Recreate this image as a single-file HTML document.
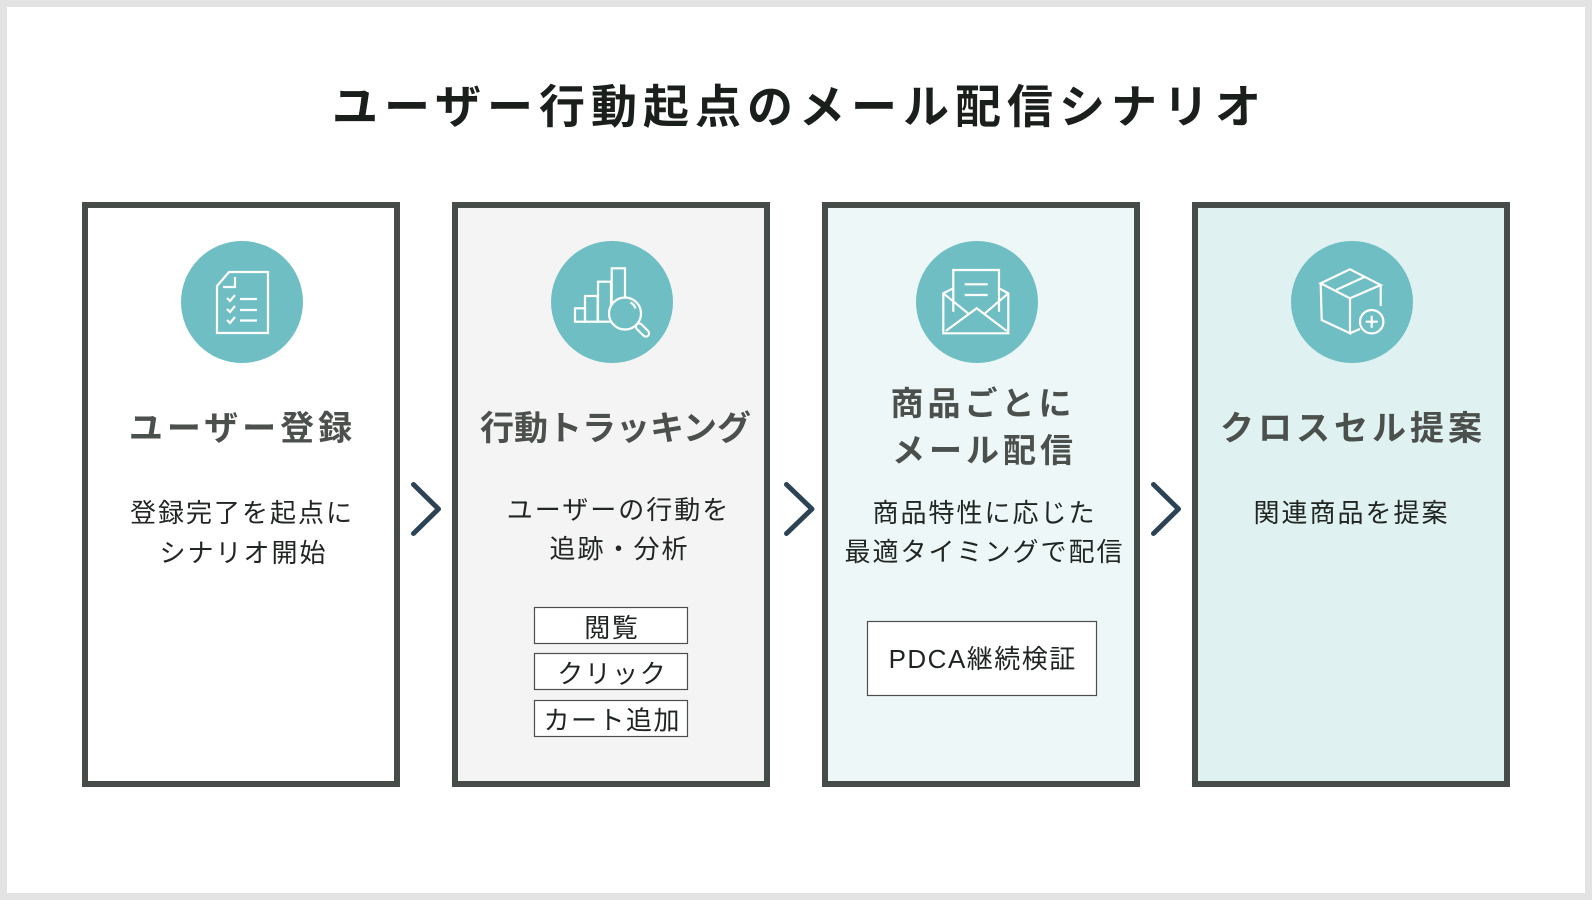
<!DOCTYPE html>
<html>
<head>
<meta charset="utf-8">
<style>
  html,body{margin:0;padding:0;background:#fff;}
  body{width:1592px;height:900px;overflow:hidden;}
  svg{display:block;}
  text{font-family:"Liberation Sans","Noto Sans CJK JP",sans-serif;}
  .ttl{font-weight:700;fill:#1b1f1c;font-size:46px;letter-spacing:6px;}
  .ct{font-weight:700;fill:#4b504d;font-size:34px;}
  .bd{font-weight:400;fill:#212622;font-size:26px;letter-spacing:2px;}
  .sb{font-weight:400;fill:#1f2421;font-size:26px;letter-spacing:1.5px;}
  .ic{fill:none;stroke:#fff;stroke-width:2.2;stroke-linejoin:miter;stroke-linecap:butt;}
</style>
</head>
<body>
<svg width="1592" height="900" viewBox="0 0 1592 900" xmlns="http://www.w3.org/2000/svg">
  <!-- frame -->
  <rect x="0" y="0" width="1592" height="900" fill="#e3e3e3"/>
  <rect x="7" y="7" width="1578" height="886" fill="#ffffff"/>

  <!-- title -->
  <text class="ttl" x="799.5" y="123" text-anchor="middle">ユーザー行動起点のメール配信シナリオ</text>

  <!-- cards -->
  <rect x="85" y="205" width="312" height="579" fill="#ffffff" stroke="#464c48" stroke-width="6"/>
  <rect x="455" y="205" width="312" height="579" fill="#f4f4f4" stroke="#464c48" stroke-width="6"/>
  <rect x="825" y="205" width="312" height="579" fill="#eef7f8" stroke="#464c48" stroke-width="6"/>
  <rect x="1195" y="205" width="312" height="579" fill="#e0f1f1" stroke="#464c48" stroke-width="6"/>

  <!-- circles -->
  <circle cx="242" cy="302" r="61" fill="#6fbec3"/>
  <circle cx="612" cy="302" r="61" fill="#6fbec3"/>
  <circle cx="977" cy="302" r="61" fill="#6fbec3"/>
  <circle cx="1352" cy="302" r="61" fill="#6fbec3"/>

  <!-- icon 1: checklist document -->
  <g transform="translate(242,302)" class="ic">
    <path d="M-25,-16 L-13,-30 L26,-30 L26,31 L-25,31 Z"/>
    <path d="M-7,-25 L-7,-15 L-19,-15"/>
    <path d="M-15,-4 L-12,-1 L-7,-7"/>
    <path d="M-15,7 L-12,10 L-7,4"/>
    <path d="M-15,18 L-12,21 L-7,15"/>
    <path d="M-2,-3 H15 M-2,8 H15 M-2,18.5 H15"/>
  </g>

  <!-- icon 2: bar chart + magnifier -->
  <g transform="translate(612,302)" class="ic">
    <rect x="-37" y="6.3" width="10" height="13.4"/>
    <rect x="-27" y="-6" width="12.7" height="25.7"/>
    <rect x="-14" y="-20.3" width="13" height="40"/>
    <rect x="-0.3" y="-33.7" width="13.3" height="36"/>
    <circle cx="13" cy="11.5" r="16" fill="#6fbec3"/>
    <path d="M18.5,0.5 A10,10 0 0 1 23.5,6.5"/>
    <g transform="translate(30.5,28) rotate(45)">
      <rect x="-8" y="-3.3" width="16" height="6.6" rx="3.3"/>
    </g>
  </g>

  <!-- icon 3: envelope -->
  <g transform="translate(977,302)" class="ic">
    <path d="M-23.7,9.7 L-23.7,-32 L22,-32 L22,9.7"/>
    <path d="M-12.3,-17.7 H10.7 M-12.3,-7 H10.7"/>
    <path d="M-23.7,-13.7 L-33.7,-8.7 L-33.7,31.3 L31.3,31.3 L31.3,-8.7 L22,-13.7"/>
    <path d="M-33.7,-8.7 L-9,11.3"/>
    <path d="M31.3,-8.7 L8,11.3"/>
    <path d="M-31.3,29 L-0.3,6.3 L29.7,29"/>
  </g>

  <!-- icon 4: box with plus -->
  <g transform="translate(1352,302)" class="ic">
    <path d="M-2,-32.7 L-31.3,-18.7 L-2,-3.7 L28.7,-17 Z"/>
    <path d="M-31.3,-18.7 L-30.3,18 L-2,31.3 L-2,-3.7"/>
    <path d="M-2,31.3 L8,27"/>
    <path d="M28.7,-17 L28.7,4"/>
    <path d="M-16,-12 L13,-25.3"/>
    <circle cx="19.7" cy="19.7" r="11.7"/>
    <path d="M13.7,19.7 H25.7 M19.7,13.7 V25.7"/>
  </g>

  <!-- card titles -->
  <text class="ct" x="242.5" y="440" text-anchor="middle" letter-spacing="4">ユーザー登録</text>
  <text class="ct" x="615.5" y="440" text-anchor="middle" letter-spacing="0">行動トラッキング</text>
  <text class="ct" x="983" y="415" text-anchor="middle" style="font-size:33px" letter-spacing="4">商品ごとに</text>
  <text class="ct" x="984.5" y="462" text-anchor="middle" style="font-size:33px" letter-spacing="4">メール配信</text>
  <text class="ct" x="1353" y="440" text-anchor="middle" letter-spacing="4">クロスセル提案</text>

  <!-- body text -->
  <text class="bd" x="242" y="522" text-anchor="middle">登録完了を起点に</text>
  <text class="bd" x="243.5" y="562" text-anchor="middle">シナリオ開始</text>

  <text class="bd" x="618.5" y="519" text-anchor="middle">ユーザーの行動を</text>
  <text class="bd" x="619.5" y="558" text-anchor="middle">追跡・分析</text>

  <text class="bd" x="984.5" y="522" text-anchor="middle">商品特性に応じた</text>
  <text class="bd" x="984.5" y="561" text-anchor="middle">最適タイミングで配信</text>

  <text class="bd" x="1351.5" y="522" text-anchor="middle">関連商品を提案</text>

  <!-- sub boxes card 2 -->
  <rect x="534.5" y="607.5" width="153" height="36" fill="#ffffff" stroke="#4a4f4c" stroke-width="1.2"/>
  <rect x="534.5" y="653.5" width="153" height="36" fill="#ffffff" stroke="#4a4f4c" stroke-width="1.2"/>
  <rect x="534.5" y="700.5" width="153" height="36" fill="#ffffff" stroke="#4a4f4c" stroke-width="1.2"/>
  <text class="sb" x="611.7" y="637" text-anchor="middle">閲覧</text>
  <text class="sb" x="612.2" y="683" text-anchor="middle" letter-spacing="2.5">クリック</text>
  <text class="sb" x="612.2" y="729.5" text-anchor="middle">カート追加</text>

  <!-- PDCA box card 3 -->
  <rect x="867.5" y="621.5" width="229" height="74" fill="#ffffff" stroke="#4a4f4c" stroke-width="1.2"/>
  <text class="sb" x="982.7" y="668" text-anchor="middle" letter-spacing="3">PDCA継続検証</text>

  <!-- chevrons -->
  <g fill="none" stroke="#2c4356" stroke-width="5" stroke-linecap="round" stroke-linejoin="round">
    <path d="M413.5,484.5 L438.5,509 L413.5,533.5"/>
    <path d="M786.5,484.5 L812,509 L786.5,533.5"/>
    <path d="M1153.5,484.5 L1178.5,509 L1153.5,533.5"/>
  </g>
</svg>
</body>
</html>
